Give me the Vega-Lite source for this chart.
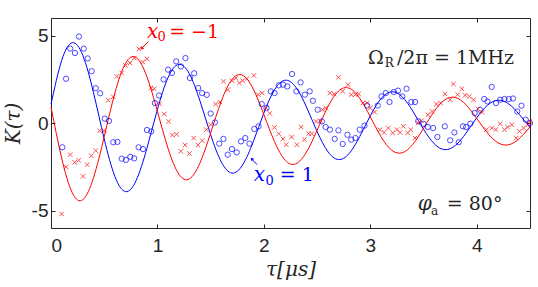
{
"$schema": "https://vega.github.io/schema/vega-lite/v6.json",
"width": 479, "height": 210,
"autosize": "none",
"padding": {"left": 51, "top": 18, "right": 8, "bottom": 59},
"background": "white",
"config": {"view": {"stroke": null},
  "axis": {"grid": false, "domainColor": "#262626", "tickColor": "#262626", "labelColor": "#262626", "labelFont": "Liberation Sans", "labelFontSize": 19, "titleFont": "DejaVu Serif", "titleFontSize": 20, "titleFontWeight": "normal", "titleColor": "#262626", "tickSize": -4, "domainWidth": 1, "tickWidth": 1}},
"datasets": {
 "curves": [
  {"t":0,"blue":1.071,"red":0.909},{"t":0.1,"blue":3.569,"red":-2.001},{"t":0.2,"blue":4.59,"red":-3.99},{"t":0.3,"blue":3.845,"red":-4.378},{"t":0.4,"blue":1.719,"red":-3.117},{"t":0.5,"blue":-0.915,"red":-0.776},{"t":0.6,"blue":-3.049,"red":1.709},{"t":0.7,"blue":-3.921,"red":3.409},{"t":0.8,"blue":-3.284,"red":3.74},{"t":0.9,"blue":-1.468,"red":2.663},
  {"t":1.0,"blue":0.782,"red":0.663},{"t":1.1,"blue":2.605,"red":-1.46},{"t":1.2,"blue":3.35,"red":-2.912},{"t":1.3,"blue":2.806,"red":-3.195},{"t":1.4,"blue":1.254,"red":-2.275},{"t":1.5,"blue":-0.668,"red":-0.567},{"t":1.6,"blue":-2.225,"red":1.248},{"t":1.7,"blue":-2.862,"red":2.488},{"t":1.8,"blue":-2.397,"red":2.729},{"t":1.9,"blue":-1.072,"red":1.943},
  {"t":2.0,"blue":0.57,"red":0.484},{"t":2.1,"blue":1.901,"red":-1.066},{"t":2.2,"blue":2.445,"red":-2.126},{"t":2.3,"blue":2.048,"red":-2.332},{"t":2.4,"blue":0.915,"red":-1.66},{"t":2.5,"blue":-0.487,"red":-0.414},{"t":2.6,"blue":-1.624,"red":0.911},{"t":2.7,"blue":-2.088,"red":1.816},{"t":2.8,"blue":-1.75,"red":1.992},{"t":2.9,"blue":-0.782,"red":1.418},
  {"t":3.0,"blue":0.416,"red":0.353},{"t":3.1,"blue":1.387,"red":-0.778},{"t":3.2,"blue":1.784,"red":-1.551},{"t":3.3,"blue":1.495,"red":-1.702},{"t":3.4,"blue":0.668,"red":-1.212},{"t":3.5,"blue":-0.356,"red":-0.302},{"t":3.6,"blue":-1.185,"red":0.665},{"t":3.7,"blue":-1.524,"red":1.325},{"t":3.8,"blue":-1.277,"red":1.454},{"t":3.9,"blue":-0.571,"red":1.035},
  {"t":4.0,"blue":0.304,"red":0.258},{"t":4.1,"blue":1.012,"red":-0.568},{"t":4.2,"blue":1.302,"red":-1.132},{"t":4.3,"blue":1.091,"red":-1.242},{"t":4.4,"blue":0.488,"red":-0.884},{"t":4.5,"blue":-0.259,"red":-0.22}
 ],
 "bluepts": [{"t":0.106,"K":-1.39},{"t":0.141,"K":2.53},{"t":0.18,"K":4.25},{"t":0.225,"K":4.0},{"t":0.263,"K":4.94},{"t":0.308,"K":4.25},{"t":0.345,"K":3.69},{"t":0.382,"K":2.96},{"t":0.42,"K":1.99},{"t":0.462,"K":1.7},{"t":0.505,"K":0.25},{"t":0.545,"K":0.12},{"t":0.585,"K":-1.1},{"t":0.624,"K":-1.08},{"t":0.664,"K":-2.04},{"t":0.704,"K":-2.11},{"t":0.745,"K":-1.93},{"t":0.782,"K":-2.02},{"t":0.823,"K":-1.39},{"t":0.864,"K":-1.49},{"t":0.901,"K":-0.4},{"t":0.942,"K":-0.48},{"t":0.976,"K":1.14},{"t":1.016,"K":1.57},{"t":1.058,"K":2.49},{"t":1.1,"K":3.05},{"t":1.136,"K":2.86},{"t":1.176,"K":3.52},{"t":1.22,"K":3.23},{"t":1.263,"K":3.71},{"t":1.305,"K":2.57},{"t":1.345,"K":2.84},{"t":1.383,"K":2.0},{"t":1.42,"K":1.71},{"t":1.463,"K":1.61},{"t":1.5,"K":0.54},{"t":1.54,"K":0.03},{"t":1.58,"K":-1.18},{"t":1.62,"K":-0.91},{"t":1.66,"K":-1.81},{"t":1.7,"K":-1.49},{"t":1.745,"K":-1.68},{"t":1.785,"K":-1.05},{"t":1.825,"K":-0.86},{"t":1.865,"K":-1.18},{"t":1.91,"K":-0.34},{"t":1.95,"K":-0.19},{"t":1.98,"K":1.08},{"t":2.025,"K":0.86},{"t":2.065,"K":1.81},{"t":2.1,"K":1.71},{"t":2.14,"K":2.15},{"t":2.18,"K":2.19},{"t":2.22,"K":2.09},{"t":2.265,"K":2.8},{"t":2.305,"K":1.81},{"t":2.345,"K":2.32},{"t":2.385,"K":1.62},{"t":2.43,"K":1.81},{"t":2.46,"K":1.27},{"t":2.505,"K":0.76},{"t":2.545,"K":0.09},{"t":2.58,"K":-0.23},{"t":2.62,"K":-0.38},{"t":2.665,"K":-0.91},{"t":2.7,"K":-0.42},{"t":2.74,"K":-1.2},{"t":2.785,"K":-0.67},{"t":2.82,"K":-0.95},{"t":2.86,"K":-0.86},{"t":2.9,"K":-0.38},{"t":2.945,"K":-0.15},{"t":2.97,"K":1.0},{"t":3.07,"K":1.0},{"t":3.105,"K":1.52},{"t":3.145,"K":1.71},{"t":3.18,"K":1.2},{"t":3.22,"K":1.77},{"t":3.26,"K":1.85},{"t":3.3,"K":1.52},{"t":3.34,"K":1.96},{"t":3.385,"K":1.2},{"t":3.42,"K":1.2},{"t":3.45,"K":0.1},{"t":3.5,"K":-0.05},{"t":3.54,"K":-0.23},{"t":3.59,"K":-0.29},{"t":3.63,"K":-0.8},{"t":3.7,"K":-0.19},{"t":3.75,"K":-0.99},{"t":3.79,"K":-0.54},{"t":3.83,"K":-1.1},{"t":3.87,"K":-0.19},{"t":3.9,"K":-0.23},{"t":3.94,"K":-0.04},{"t":3.98,"K":0.57},{"t":4.03,"K":0.76},{"t":4.07,"K":1.37},{"t":4.1,"K":1.23},{"t":4.14,"K":2.06},{"t":4.18,"K":1.14},{"t":4.22,"K":1.33},{"t":4.26,"K":1.37},{"t":4.3,"K":1.37},{"t":4.34,"K":1.4},{"t":4.38,"K":0.66},{"t":4.42,"K":0.99},{"t":4.46,"K":0.19},{"t":4.5,"K":0.0}],
 "redpts": [{"t":0.1,"K":-5.2},{"t":0.141,"K":-2.51},{"t":0.18,"K":-1.81},{"t":0.222,"K":-2.25},{"t":0.26,"K":-2.14},{"t":0.3,"K":-3.05},{"t":0.34,"K":-2.38},{"t":0.378,"K":-1.87},{"t":0.42,"K":-1.58},{"t":0.457,"K":-0.44},{"t":0.5,"K":-0.44},{"t":0.538,"K":1.3},{"t":0.585,"K":1.5},{"t":0.617,"K":2.66},{"t":0.664,"K":2.86},{"t":0.7,"K":3.29},{"t":0.742,"K":3.43},{"t":0.782,"K":3.71},{"t":0.826,"K":4.23},{"t":0.861,"K":3.49},{"t":0.901,"K":3.67},{"t":0.939,"K":2.0},{"t":0.97,"K":1.96},{"t":1.02,"K":1.09},{"t":1.064,"K":0.51},{"t":1.105,"K":0.09},{"t":1.14,"K":-0.69},{"t":1.18,"K":-0.65},{"t":1.22,"K":-1.62},{"t":1.26,"K":-1.26},{"t":1.3,"K":-1.74},{"t":1.34,"K":-0.86},{"t":1.38,"K":-1.26},{"t":1.42,"K":-1.01},{"t":1.46,"K":-0.38},{"t":1.5,"K":-0.1},{"t":1.546,"K":1.08},{"t":1.587,"K":1.2},{"t":1.62,"K":2.38},{"t":1.66,"K":1.9},{"t":1.7,"K":2.42},{"t":1.737,"K":2.57},{"t":1.77,"K":2.29},{"t":1.8,"K":2.42},{"t":1.84,"K":2.53},{"t":1.906,"K":2.72},{"t":1.947,"K":1.62},{"t":1.984,"K":1.71},{"t":2.02,"K":0.86},{"t":2.056,"K":0.55},{"t":2.1,"K":-0.25},{"t":2.14,"K":-0.61},{"t":2.18,"K":-0.91},{"t":2.21,"K":-1.24},{"t":2.26,"K":-0.8},{"t":2.31,"K":-1.24},{"t":2.35,"K":-0.23},{"t":2.38,"K":-0.95},{"t":2.42,"K":-0.61},{"t":2.45,"K":-0.61},{"t":2.49,"K":0.09},{"t":2.53,"K":0.13},{"t":2.55,"K":0.76},{"t":2.58,"K":0.86},{"t":2.62,"K":1.71},{"t":2.66,"K":1.66},{"t":2.7,"K":2.61},{"t":2.74,"K":1.81},{"t":2.79,"K":2.19},{"t":2.82,"K":1.62},{"t":2.86,"K":1.62},{"t":2.89,"K":1.66},{"t":2.93,"K":1.14},{"t":2.97,"K":1.14},{"t":3.0,"K":0.86},{"t":3.04,"K":0.63},{"t":3.09,"K":-0.38},{"t":3.13,"K":-0.54},{"t":3.17,"K":-0.29},{"t":3.21,"K":-0.57},{"t":3.25,"K":-0.38},{"t":3.28,"K":-0.54},{"t":3.31,"K":-0.19},{"t":3.35,"K":-0.57},{"t":3.38,"K":-0.38},{"t":3.42,"K":-0.86},{"t":3.45,"K":0.0},{"t":3.48,"K":0.13},{"t":3.54,"K":0.47},{"t":3.58,"K":0.66},{"t":3.62,"K":1.08},{"t":3.66,"K":1.14},{"t":3.7,"K":1.66},{"t":3.75,"K":1.33},{"t":3.78,"K":2.23},{"t":3.82,"K":1.62},{"t":3.86,"K":1.96},{"t":3.89,"K":1.58},{"t":3.93,"K":1.52},{"t":3.97,"K":1.33},{"t":4.01,"K":0.8},{"t":4.05,"K":0.61},{"t":4.09,"K":-0.38},{"t":4.14,"K":-0.29},{"t":4.18,"K":-0.38},{"t":4.22,"K":-0.04},{"t":4.26,"K":-0.38},{"t":4.29,"K":-0.23},{"t":4.33,"K":-0.1},{"t":4.37,"K":-0.86},{"t":4.4,"K":-0.48},{"t":4.44,"K":-0.29},{"t":4.48,"K":-0.1},{"t":4.5,"K":0.09}]
},
"layer": [
 {"layer": [
  {"data": {"name": "curves"}, "transform": [{"fold": ["blue", "red"], "as": ["s", "K"]}],
   "mark": {"type": "line", "interpolate": "natural", "strokeWidth": 1},
   "encoding": {
    "x": {"field": "t", "type": "quantitative", "scale": {"domain": [0, 4.5], "nice": false, "zero": false},
      "axis": {"values": [0, 1, 2, 3, 4], "format": "d", "title": "τ[μs]", "titleFontStyle": "italic", "titleX": 239.5, "titleY": 41, "titleAlign": "center", "titleBaseline": "middle", "labelPadding": 12}},
    "y": {"field": "K", "type": "quantitative", "scale": {"domain": [-6, 6], "nice": false},
      "axis": {"values": [-5, 0, 5], "title": "K(τ)", "titleFontStyle": "italic", "titleX": -38, "titleY": 105, "titleAngle": -90, "titleAlign": "center", "titleBaseline": "middle", "labelPadding": 7, "labelExpr": "datum.value < 0 ? '-' + abs(datum.value) : datum.label"}},
    "color": {"field": "s", "type": "nominal", "scale": {"domain": ["blue", "red"], "range": ["#0000ff", "#ff0000"]}, "legend": null}
   }},
  {"data": {"name": "bluepts"}, "mark": {"type": "point", "shape": "circle", "filled": false, "color": "#0000ff", "size": 28, "strokeWidth": 1},
   "encoding": {"x": {"field": "t", "type": "quantitative"}, "y": {"field": "K", "type": "quantitative"}}},
  {"data": {"name": "redpts"}, "mark": {"type": "point", "shape": "M-1,-1L1,1M-1,1L1,-1", "filled": false, "color": "#ff0000", "size": 20, "strokeWidth": 1},
   "encoding": {"x": {"field": "t", "type": "quantitative"}, "y": {"field": "K", "type": "quantitative"}}},
  {"data": {"values": [{"t": 0.901, "K": 4.874, "txt": "x"}]}, "mark": {"type": "text", "font": "DejaVu Serif", "fontStyle": "italic", "fontSize": 20, "align": "left", "baseline": "alphabetic", "color": "#ff0000"},
   "encoding": {"x": {"field": "t", "type": "quantitative"}, "y": {"field": "K", "type": "quantitative"}, "text": {"field": "txt"}}},
  {"data": {"values": [{"t": 1.0, "K": 4.663, "txt": "0"}]}, "mark": {"type": "text", "font": "DejaVu Serif", "fontSize": 13, "align": "left", "baseline": "alphabetic", "color": "#ff0000"},
   "encoding": {"x": {"field": "t", "type": "quantitative"}, "y": {"field": "K", "type": "quantitative"}, "text": {"field": "txt"}}},
  {"data": {"values": [{"t": 1.11, "K": 4.857, "txt": "= −1"}]}, "mark": {"type": "text", "font": "DejaVu Serif", "fontSize": 19, "align": "left", "baseline": "alphabetic", "color": "#ff0000"},
   "encoding": {"x": {"field": "t", "type": "quantitative"}, "y": {"field": "K", "type": "quantitative"}, "text": {"field": "txt"}}},
  {"data": {"values": [{"t": 1.905, "K": -3.337, "txt": "x"}]}, "mark": {"type": "text", "font": "DejaVu Serif", "fontStyle": "italic", "fontSize": 20, "align": "left", "baseline": "alphabetic", "color": "#0000ff"},
   "encoding": {"x": {"field": "t", "type": "quantitative"}, "y": {"field": "K", "type": "quantitative"}, "text": {"field": "txt"}}},
  {"data": {"values": [{"t": 2.015, "K": -3.526, "txt": "0"}]}, "mark": {"type": "text", "font": "DejaVu Serif", "fontSize": 13, "align": "left", "baseline": "alphabetic", "color": "#0000ff"},
   "encoding": {"x": {"field": "t", "type": "quantitative"}, "y": {"field": "K", "type": "quantitative"}, "text": {"field": "txt"}}},
  {"data": {"values": [{"t": 2.15, "K": -3.337, "txt": "= 1"}]}, "mark": {"type": "text", "font": "DejaVu Serif", "fontSize": 19, "align": "left", "baseline": "alphabetic", "color": "#0000ff"},
   "encoding": {"x": {"field": "t", "type": "quantitative"}, "y": {"field": "K", "type": "quantitative"}, "text": {"field": "txt"}}},
  {"data": {"values": [{"t": 2.977, "K": 3.389, "txt": "Ω"}, {"t": 3.25, "K": 3.389, "txt": "/2π = 1MHz"}, {"t": 3.718, "K": -4.994, "txt": "= 80°"}]}, "mark": {"type": "text", "font": "DejaVu Serif", "fontSize": 19, "align": "left", "baseline": "alphabetic", "color": "#262626"},
   "encoding": {"x": {"field": "t", "type": "quantitative"}, "y": {"field": "K", "type": "quantitative"}, "text": {"field": "txt"}}},
  {"data": {"values": [{"t": 3.135, "K": 3.2, "txt": "R"}, {"t": 3.571, "K": -5.24, "txt": "a"}]}, "mark": {"type": "text", "font": "DejaVu Serif", "fontSize": 12, "align": "left", "baseline": "alphabetic", "color": "#262626"},
   "encoding": {"x": {"field": "t", "type": "quantitative"}, "y": {"field": "K", "type": "quantitative"}, "text": {"field": "txt"}}},
  {"data": {"values": [{"t": 3.446, "K": -4.994, "txt": "φ"}]}, "mark": {"type": "text", "font": "DejaVu Serif", "fontStyle": "italic", "fontSize": 20, "align": "left", "baseline": "alphabetic", "color": "#262626"},
   "encoding": {"x": {"field": "t", "type": "quantitative"}, "y": {"field": "K", "type": "quantitative"}, "text": {"field": "txt"}}},
  {"data": {"values": [{"t": 0.915, "K": 4.65, "t2": 0.856, "K2": 4.29}]}, "mark": {"type": "rule", "color": "#ff0000", "strokeWidth": 1},
   "encoding": {"x": {"field": "t", "type": "quantitative"}, "y": {"field": "K", "type": "quantitative"}, "x2": {"field": "t2"}, "y2": {"field": "K2"}}},
  {"data": {"values": [{"t": 0.852, "K": 4.26}]}, "mark": {"type": "point", "shape": "triangle-up", "filled": true, "color": "#ff0000", "size": 14, "angle": 225, "opacity": 1},
   "encoding": {"x": {"field": "t", "type": "quantitative"}, "y": {"field": "K", "type": "quantitative"}}},
  {"data": {"values": [{"t": 1.937, "K": -2.38, "t2": 1.889, "K2": -2.08}]}, "mark": {"type": "rule", "color": "#0000ff", "strokeWidth": 1},
   "encoding": {"x": {"field": "t", "type": "quantitative"}, "y": {"field": "K", "type": "quantitative"}, "x2": {"field": "t2"}, "y2": {"field": "K2"}}},
  {"data": {"values": [{"t": 1.886, "K": -2.05}]}, "mark": {"type": "point", "shape": "triangle-up", "filled": true, "color": "#0000ff", "size": 14, "angle": 317, "opacity": 1},
   "encoding": {"x": {"field": "t", "type": "quantitative"}, "y": {"field": "K", "type": "quantitative"}}}
 ]},
 {"data": {"name": "curves"}, "mark": {"type": "point", "opacity": 0},
  "encoding": {
   "x": {"field": "t", "type": "quantitative", "axis": {"orient": "top", "values": [0, 1, 2, 3, 4], "labels": false, "title": null}},
   "y": {"field": "blue", "type": "quantitative", "axis": {"orient": "right", "values": [-5, 0, 5], "labels": false, "title": null}}
  }}
],
"resolve": {"axis": {"x": "independent", "y": "independent"}}
}
